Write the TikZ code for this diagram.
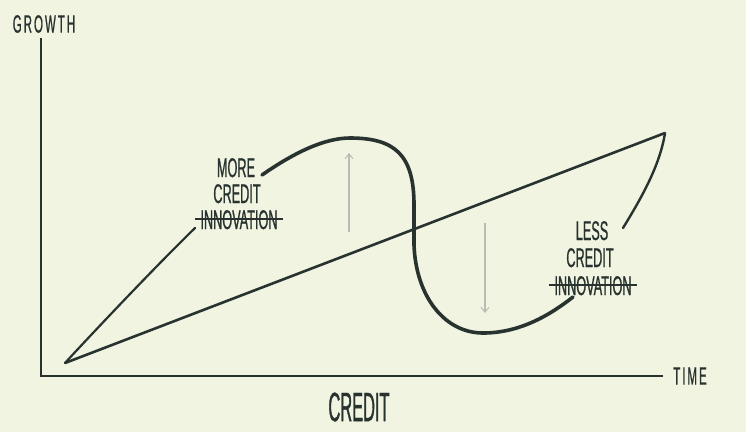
\documentclass[tikz,border=0pt]{standalone}
\usepackage{fontspec}
\usepackage{amsmath}
\usetikzlibrary{arrows.meta}
\newfontfamily\handfont[FakeStretch=0.47, FakeBold=0.7]{Liberation Sans}
\newfontfamily\achsfont[FakeStretch=0.46, FakeBold=0.7, LetterSpace=8]{Liberation Sans}
\newfontfamily\bighand[FakeStretch=0.4, FakeBold=0.8]{Liberation Sans}
\definecolor{papier}{HTML}{F2F4E2}
\definecolor{tinte}{HTML}{28332F}
\definecolor{hellgrau}{HTML}{B7BDB2}
\tikzset{
    schrift/.style={text=tinte, font=\handfont\fontsize{27}{27}\selectfont, inner sep=0pt, anchor=base},
    achse/.style={text=tinte, font=\achsfont\fontsize{25}{25}\selectfont, inner sep=0pt},
    pfeil/.style={hellgrau, line width=1.4pt, -{Straight Barb[length=5pt,width=8pt,line width=1pt]}},
}
\begin{document}
\begin{tikzpicture}[x=1pt, y=-1pt]
            \fill[papier] (0,0) rectangle (746,432);
            \useasboundingbox (0,0) rectangle (746,432);
            % Achsen:
            \coordinate (ytop) at (41,38);
            \coordinate (ursprung) at (41,376);
            \coordinate (xend) at (663,376);
            \draw[tinte, line width=2.2pt] (ytop) -- (ursprung) -- (xend);
            \node[achse] (growth) at (44,24) {GROWTH};
            \node[achse] (time) at (690,376) {TIME};
            \node[text=tinte, font=\bighand\fontsize{41}{41}\selectfont, inner sep=0pt]
                (credit) at (359,407) {CREDIT};
            % Beschriftung links:
            \node[schrift] (more) at (236,177) {MORE};
            \node[schrift] (creditL) at (237,203) {CREDIT};
            \node[schrift] (innoL) at (239,229) {INNOVATION};
            \draw[tinte, line width=2.4pt] ([xshift=-5pt,yshift=1pt]innoL.west)
                -- ([xshift=5pt,yshift=1pt]innoL.east);
            % Beschriftung rechts:
            \node[schrift] (less) at (592,240) {LESS};
            \node[schrift] (creditR) at (590,267) {CREDIT};
            \node[schrift] (innoR) at (593,295) {INNOVATION};
            \draw[tinte, line width=2.4pt] ([xshift=-5pt,yshift=1pt]innoR.west)
                -- ([xshift=5pt,yshift=1pt]innoR.east);
            % Linien:
            \coordinate (start) at (65,363);
            \coordinate (ziel) at (665,133);
            \draw[tinte, line width=2.6pt] (start) -- (ziel);
            \draw[tinte, line width=2.2pt, line cap=round] (start)
                .. controls (100,325) and (160,262) .. (195,228);
            \draw[tinte, line width=3.6pt, line cap=round] (262,175)
                .. controls (295,152) and (325,138) .. (350,138)
                .. controls (395,138) and (414,155) .. (414,205)
                -- (414,245)
                .. controls (416,297) and (445,333) .. (483,333)
                .. controls (520,333) and (550,315) .. (573,297);
            \draw[tinte, line width=2.4pt, line cap=round] (623,228)
                .. controls (642,197) and (660,165) .. (ziel);
            % Pfeile:
            \coordinate (aufU) at (349,232);
            \coordinate (aufO) at (349,153);
            \coordinate (abO) at (485,223);
            \coordinate (abU) at (485,313);
            \draw[pfeil] (aufU) -- (aufO);
            \draw[pfeil] (abO) -- (abU);
\end{tikzpicture}
\end{document}
